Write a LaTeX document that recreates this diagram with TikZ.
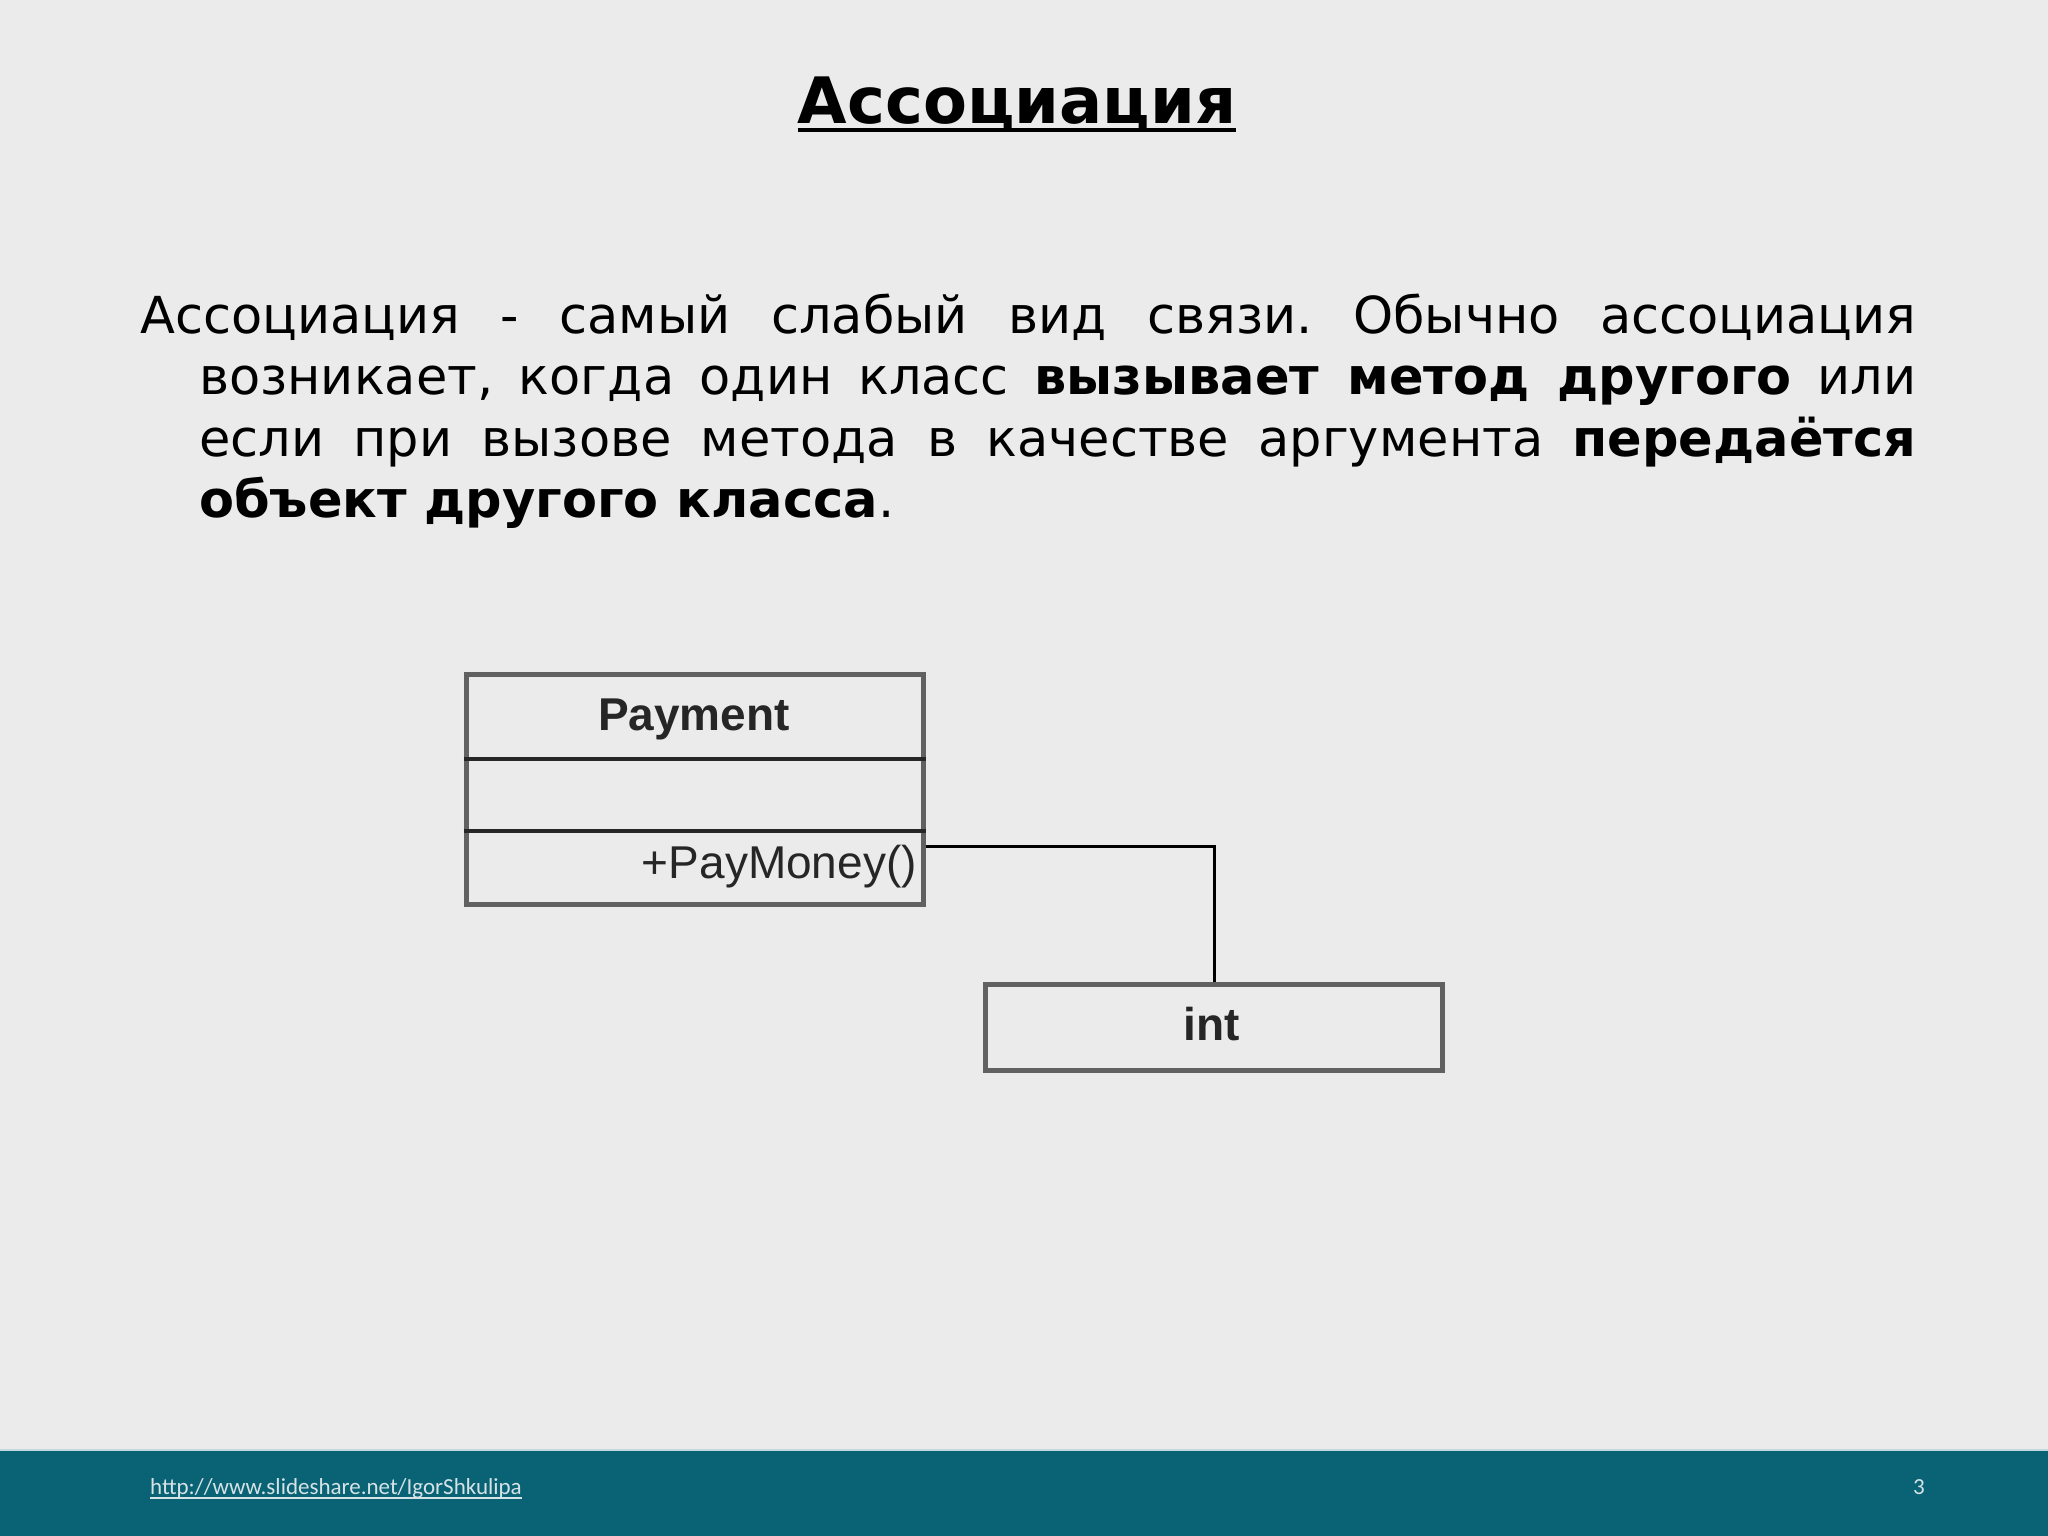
\documentclass[tikz,border=0pt]{standalone}
\usepackage{fontspec}
\setmainfont{DejaVu Sans}
\newfontfamily\umlfont{Liberation Sans}
\newfontfamily\footfont{Carlito}
\definecolor{bg}{HTML}{EBEBEB}
\definecolor{band}{HTML}{0A6375}
\definecolor{foot}{HTML}{D5E2E6}
\frenchspacing
\begin{document}
\begin{tikzpicture}[x=1pt,y=-1pt]
\fill[bg] (0,0) rectangle (2048,1536);
\useasboundingbox (0,0) rectangle (2048,1536);
\fill[band] (0,1450) rectangle (2048,1536);
\draw[white!75!band, line width=2pt] (0,1450) -- (2048,1450);
\tikzset{
  body/.style={inner sep=0, anchor=base west, font=\fontsize{51}{62}\selectfont},
  umlbox/.style={draw=black!62, line width=5pt, inner sep=0, minimum width=457pt},
  divider/.style={draw=black!85, line width=4pt},
  umltext/.style={inner sep=0, font=\umlfont\fontsize{46}{50}\selectfont, text=black!85},
  conn/.style={draw=black, line width=3pt},
  foottext/.style={inner sep=0, font=\footfont\fontsize{23}{25}\selectfont, text=foot}
}
% title
\node[inner sep=0, anchor=base, font=\bfseries\fontsize{64}{70}\selectfont] (title) at (1017,124) {Ассоциация};
\draw[line width=4pt] ([yshift=-6pt]title.base west) -- ([yshift=-6pt]title.base east);
% body
\node[body] (l1) at (140,333) {\makebox[1776pt][s]{Ассоциация - самый слабый вид связи. Обычно ассоциация}};
\node[body] (l2) at (199,394) {\makebox[1717pt][s]{возникает, когда один класс \textbf{вызывает метод другого} или}};
\node[body] (l3) at (199,456) {\makebox[1717pt][s]{если при вызове метода в качестве аргумента \textbf{передаётся}}};
\node[body] (l4) at (199,517) {\textbf{объект другого класса}.};
% UML
\node[umlbox, minimum height=230pt] (pay) at (694.5,789) {};
\draw[divider] (pay.west |- 0,759) -- (pay.east |- 0,759);
\draw[divider] (pay.west |- 0,831) -- (pay.east |- 0,831);
\node[umltext, anchor=base, font=\umlfont\bfseries\fontsize{46}{50}\selectfont] (payname) at (694,730) {Payment};
\node[umltext, anchor=base east] (paymeth) at (917,878) {+PayMoney()};
\node[umlbox, minimum height=86pt] (int) at (1214,1027) {};
\node[umltext, anchor=base, font=\umlfont\bfseries\fontsize{46}{50}\selectfont] (intname) at (1212,1040) {int};
\draw[conn] (pay.east |- 0,846) -| (int.north);
% footer
\node[foottext, anchor=base west] (url) at (150,1494) {http://www.slideshare.net/IgorShkulipa};
\draw[foot, line width=1.5pt] ([yshift=-4pt]url.base west) -- ([yshift=-4pt]url.base east);
\node[foottext, anchor=base] (pg) at (1919,1494) {3};
\end{tikzpicture}
\end{document}
